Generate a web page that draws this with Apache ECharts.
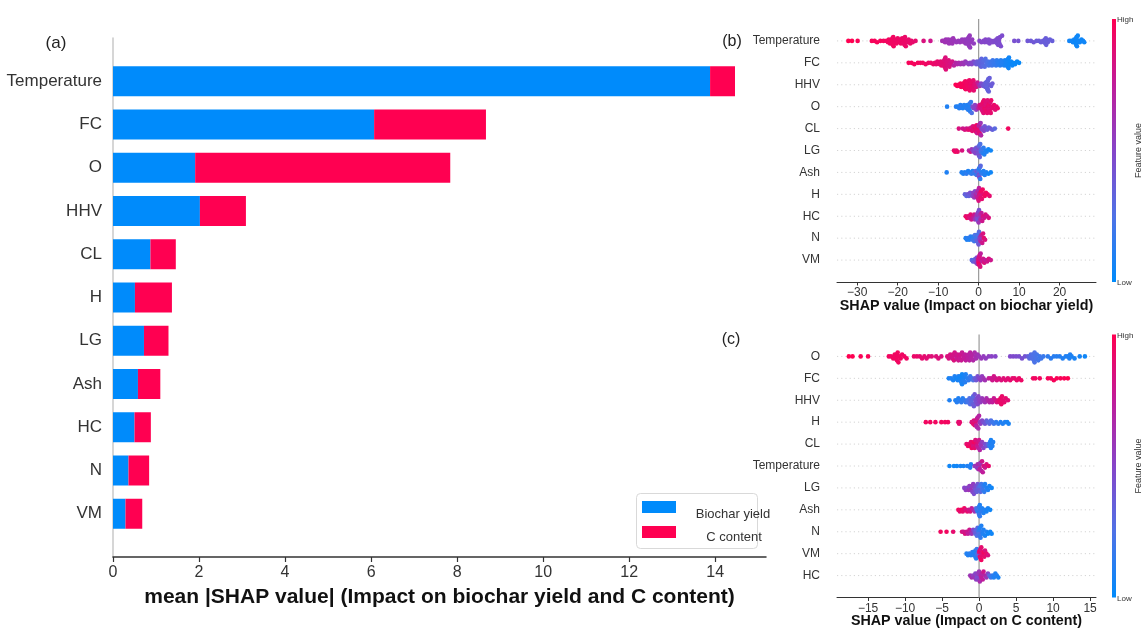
<!DOCTYPE html>
<html>
<head>
<meta charset="utf-8">
<script src="https://cdn.jsdelivr.net/npm/echarts@6/dist/echarts.min.js"></script>
<style>
  html, body { margin: 0; padding: 0; background: #ffffff; }
  #chart { width: 1141px; height: 630px; }
</style>
</head>
<body>
<div id="chart"></div>
<script>
// ---- (a) mean |SHAP| per feature, stacked for the two targets ----
const barFeatures = ['Temperature', 'FC', 'O', 'HHV', 'CL', 'H', 'LG', 'Ash', 'HC', 'N', 'VM'];
const biocharYield = [13.88, 6.07, 1.91, 2.02, 0.87, 0.51, 0.72, 0.58, 0.50, 0.36, 0.29];
const cContent = [0.58, 2.60, 5.93, 1.07, 0.59, 0.86, 0.57, 0.52, 0.38, 0.48, 0.39];
const barTicks = [0, 2, 4, 6, 8, 10, 12, 14];

// ---- (b) SHAP beeswarm, biochar yield: [shap value, normalised feature value] ----
const yieldOrder = ['Temperature', 'FC', 'HHV', 'O', 'CL', 'LG', 'Ash', 'H', 'HC', 'N', 'VM'];
const yieldTicks = [-30, -20, -10, 0, 10, 20];

const bTemperature = [[-32.2,1],[-31.3,1],[-29.9,.98],
  [-26.4,.97],[-25.7,.97],[-25.1,.97],[-24.3,.96],[-23.5,.96],
  [-22.8,.95],[-22.4,.95],[-22.2,.95],[-21.9,.94],[-21.8,.95],[-21.6,.95],[-21.5,.95],[-21.4,.94],[-21.3,.95],[-21.2,.94],[-21.1,.95],[-21.0,.95],[-20.8,.94],[-20.7,.94],[-20.5,.93],[-20.3,.94],[-20.0,.93],[-19.8,.93],[-19.6,.94],[-19.4,.93],[-19.2,.93],[-18.9,.93],[-18.8,.92],[-18.7,.92],[-18.6,.93],[-18.5,.92],[-18.4,.93],[-18.3,.92],[-18.2,.92],[-18.0,.92],[-17.8,.92],[-17.5,.91],[-17.3,.91],[-16.9,.92],[-16.6,.91],[-16.3,.91],[-15.6,.9],
  [-13.6,.85],[-11.9,.8],
  [-9.0,.62],[-8.6,.62],[-8.3,.61],[-8.1,.6],[-7.9,.61],[-7.7,.61],[-7.5,.6],[-7.3,.6],[-7.0,.6],[-6.8,.6],[-6.7,.59],[-6.5,.6],[-6.3,.6],[-5.9,.59],[-5.5,.58],[-5.0,.58],[-4.6,.58],[-4.1,.57],[-3.8,.57],[-3.6,.58],[-3.4,.57],[-3.2,.57],[-3.0,.56],[-2.9,.57],[-2.8,.56],[-2.7,.57],[-2.6,.56],[-2.5,.56],[-2.4,.57],[-2.3,.56],[-2.2,.57],[-2.1,.56],[-2.0,.56],[-1.8,.56],[-1.6,.56],[-1.2,.55],
  [0.2,.5],[0.7,.5],[1.2,.49],[1.5,.49],[1.7,.5],[2.0,.49],[2.2,.49],[2.5,.48],[2.7,.48],[3.1,.48],[3.5,.48],[3.9,.47],[4.2,.47],[4.4,.47],[4.6,.46],[4.7,.47],[4.8,.46],[4.9,.47],[5.0,.46],[5.0,.47],[5.1,.46],[5.1,.47],[5.2,.46],[5.3,.47],[5.5,.46],[5.8,.46],
  [8.8,.44],[9.8,.43],
  [12.1,.4],[12.9,.39],[13.6,.4],[14.3,.38],[14.9,.38],[15.4,.37],[15.9,.38],[16.2,.37],[16.4,.36],[16.5,.37],[16.6,.37],[16.7,.36],[16.8,.36],[17.1,.37],[17.6,.36],[18.2,.36],
  [22.4,.06],[22.9,.05],[23.3,.06],[23.6,.05],[23.8,.05],[23.9,.04],[24.0,.05],[24.0,.04],[24.1,.05],[24.1,.04],[24.2,.05],[24.3,.05],[24.5,.04],[24.7,.05],[25.0,.05],[25.4,.04],[25.8,.05],[26.1,.05]];

const bFC = [[-17.3,.97],[-16.6,.97],[-15.9,.96],[-15.0,.96],[-14.4,.95],[-13.8,.95],[-13.1,.94],[-12.4,.93],[-11.8,.93],
  [-11.2,.92],[-10.8,.92],[-10.5,.91],[-10.2,.9],[-9.9,.9],[-9.6,.9],[-9.4,.89],[-9.2,.9],[-9.0,.88],[-8.8,.88],[-8.7,.89],[-8.6,.88],[-8.5,.87],[-8.4,.88],[-8.3,.87],[-8.2,.88],[-8.2,.86],[-8.1,.87],[-8.0,.86],[-7.9,.87],[-7.8,.86],[-7.6,.85],[-7.4,.86],[-7.2,.85],[-7.0,.84],[-6.8,.83],[-6.5,.82],
  [-6.1,.72],[-5.7,.7],[-5.3,.68],[-4.9,.66],[-4.5,.64],[-4.1,.62],[-3.7,.6],[-3.3,.58],[-2.9,.56],[-2.5,.54],[-2.1,.52],[-1.7,.5],[-1.3,.48],
  [-0.9,.42],[-0.6,.4],[-0.4,.39],[-0.2,.38],[0.0,.37],[0.2,.36],[0.4,.35],[0.5,.34],[0.6,.34],[0.7,.33],[0.8,.32],[0.9,.32],[1.0,.31],[1.1,.3],[1.3,.29],[1.5,.28],[1.7,.27],[1.9,.26],[2.1,.25],[2.3,.24],[2.5,.23],[2.7,.22],[2.9,.21],[3.1,.2],[3.3,.2],[3.5,.19],[3.7,.18],[3.9,.17],[4.1,.17],[4.3,.16],[4.5,.15],[4.7,.14],[4.9,.14],[5.1,.13],[5.3,.12],[5.5,.12],[5.7,.11],[5.9,.1],[6.1,.1],[6.3,.09],[6.5,.08],[6.7,.08],[6.8,.07],[6.9,.07],[7.0,.06],[7.1,.06],[7.2,.06],[7.3,.05],[7.4,.05],[7.5,.05],[7.6,.05],[7.8,.04],[8.0,.04],[8.3,.04],[8.6,.03],[9.0,.03],[9.5,.03],[10.0,.02]];

const bHHV = [[-5.7,.99],[-5.3,.99],[-5.0,.98],[-4.7,.98],[-4.5,.98],[-4.3,.97],[-4.1,.97],[-3.9,.97],[-3.7,.96],[-3.6,.96],[-3.5,.96],[-3.4,.96],[-3.3,.95],[-3.2,.95],[-3.1,.95],[-3.0,.95],[-2.9,.94],[-2.8,.94],[-2.7,.94],[-2.6,.94],[-2.5,.93],[-2.4,.93],[-2.3,.93],[-2.2,.93],[-2.1,.92],[-2.0,.92],[-1.9,.92],[-1.8,.92],[-1.7,.91],[-1.6,.91],[-1.5,.91],[-1.4,.9],[-1.3,.9],[-1.2,.9],[-1.1,.89],[-1.0,.88],[-0.9,.87],
  [-0.6,.85],[-0.3,.78],[0.0,.7],[0.3,.6],[0.6,.5],[0.9,.45],[1.2,.4],[1.5,.38],
  [1.7,.36],[1.8,.35],[1.9,.35],[2.0,.34],[2.0,.35],[2.1,.34],[2.1,.35],[2.1,.33],[2.2,.34],[2.2,.35],[2.3,.34],[2.3,.33],[2.4,.34],[2.5,.35],[2.7,.36],[2.9,.36],[3.1,.37],[3.4,.38]];

const bO = [[-7.8,.1],
  [-5.6,.12],[-5.2,.1],[-4.8,.12],[-4.5,.1],[-4.2,.14],[-3.9,.1],[-3.6,.12],[-3.3,.1],[-3.0,.14],[-2.8,.1],[-2.6,.12],[-2.5,.1],[-2.4,.14],[-2.4,.1],[-2.3,.12],[-2.2,.15],[-2.1,.12],[-1.9,.18],[-1.7,.25],
  [-1.5,.45],[-1.2,.5],[-0.9,.52],[-0.6,.55],[-0.3,.6],
  [0.0,.75],[0.2,.8],[0.4,.85],[0.6,.82],[0.7,.88],[0.8,.85],[0.9,.9],[1.0,.86],[1.1,.92],[1.2,.88],[1.3,.9],[1.4,.87],[1.5,.93],[1.6,.88],[1.7,.9],[1.8,.86],[1.9,.92],[2.0,.88],[2.1,.9],[2.2,.87],[2.3,.93],[2.4,.89],[2.5,.9],[2.6,.88],[2.7,.92],[2.8,.9],[2.9,.86],[3.0,.9],[3.1,.92],[3.3,.88],[3.5,.9],[3.8,.92],[4.1,.88],[4.4,.9],[4.7,.92]];

const bCL = [[-4.9,.85],[-3.9,.8],[-3.4,.85],[-3.0,.8],[-2.6,.9],[-2.3,.85],[-2.0,.9],[-1.8,.8],[-1.6,.9],[-1.4,.85],[-1.2,.9],[-1.0,.8],[-0.9,.95],[-0.8,.9],[-0.7,.85],[-0.6,.9],[-0.5,.95],[-0.4,.8],[-0.3,.9],[-0.2,.85],[-0.1,.95],[0.0,.9],[0.0,.8],[0.1,.85],[0.1,.7],[0.2,.9],[0.3,.75],[0.4,.85],[0.5,.6],[0.6,.7],[0.7,.55],[0.9,.5],[1.1,.45],[1.3,.5],[1.5,.4],[1.8,.45],[2.1,.4],[2.5,.35],[2.9,.4],[3.4,.35],[4.0,.3],[7.3,.95]];

const bLG = [[-6.1,.9],[-5.8,.95],[-5.5,.9],[-5.2,.92],[-4.1,.85],
  [-2.4,.7],[-2.0,.8],[-1.7,.6],[-1.4,.55],[-1.2,.5],[-1.0,.45],[-0.8,.5],[-0.6,.4],[-0.5,.45],[-0.4,.5],[-0.3,.4],[-0.2,.45],[-0.1,.5],[0.0,.4],[0.0,.35],[0.1,.45],[0.2,.3],[0.3,.35],[0.4,.25],[0.5,.3],[0.6,.2],[0.8,.2],[1.0,.15],[1.2,.15],[1.4,.1],[1.7,.1],[2.0,.1],[2.4,.05],[3.0,.05]];

const bAsh = [[-7.9,.1],
  [-4.2,.1],[-3.8,.1],[-3.4,.1],[-3.0,.15],[-2.6,.1],[-2.2,.1],[-1.8,.15],[-1.5,.1],[-1.2,.2],[-0.9,.15],[-0.7,.3],[-0.5,.2],[-0.3,.4],[-0.2,.15],[-0.1,.3],[0.0,.45],[0.0,.2],[0.1,.35],[0.1,.1],[0.2,.5],[0.3,.2],[0.4,.15],[0.5,.3],[0.7,.1],[0.9,.15],[1.2,.1],[1.5,.1],[1.9,.1],[2.4,.05],[3.0,.05]];

const bH = [[-3.4,.35],[-3.0,.3],[-2.7,.4],[-2.4,.35],[-2.1,.45],[-1.8,.4],[-1.5,.5],[-1.3,.55],[-1.1,.6],[-0.9,.5],[-0.7,.65],[-0.5,.7],[-0.4,.6],[-0.3,.75],[-0.2,.7],[-0.1,.8],[0.0,.65],[0.0,.85],[0.1,.75],[0.2,.9],[0.3,.8],[0.4,.85],[0.5,.9],[0.6,.95],[0.8,.9],[1.0,.95],[1.2,.9],[1.5,.95],[1.8,.95],[2.2,.95],[2.7,.9]];

const bHC = [[-3.2,.9],[-2.9,.95],[-2.6,.9],[-2.3,.85],[-2.0,.9],[-1.8,.8],[-1.5,.85],[-1.3,.75],[-1.1,.8],[-0.9,.6],[-0.7,.7],[-0.5,.5],[-0.4,.6],[-0.3,.45],[-0.2,.55],[-0.1,.4],[0.0,.5],[0.0,.6],[0.1,.45],[0.2,.55],[0.3,.5],[0.4,.65],[0.5,.7],[0.7,.75],[0.9,.8],[1.1,.85],[1.4,.8],[1.7,.85],[2.1,.8],[2.5,.85]];

const bN = [[-3.2,.1],[-2.9,.1],[-2.6,.15],[-2.3,.1],[-2.0,.15],[-1.7,.1],[-1.5,.2],[-1.3,.15],[-1.1,.2],[-0.9,.25],[-0.7,.2],[-0.5,.3],[-0.4,.2],[-0.3,.35],[-0.2,.25],[-0.1,.3],[0.0,.2],[0.0,.4],[0.1,.3],[0.2,.45],[0.3,.5],[0.4,.6],[0.5,.7],[0.7,.75],[0.9,.8],[1.1,.85],[1.3,.9],[1.6,.85]];

const bVM = [[-1.7,.3],[-1.4,.35],[-1.2,.25],[-1.0,.4],[-0.8,.35],[-0.6,.45],[-0.4,.5],[-0.3,.6],[-0.2,.7],[-0.1,.8],[0.0,.85],[0.0,.9],[0.1,.8],[0.1,.95],[0.2,.85],[0.2,.9],[0.3,.8],[0.4,.85],[0.5,.75],[0.7,.8],[0.9,.75],[1.1,.8],[1.4,.85],[1.7,.75],[2.1,.8],[2.5,.85],[3.0,.8]];

// ---- (c) SHAP beeswarm, C content ----
const carbonOrder = ['O', 'FC', 'HHV', 'H', 'CL', 'Temperature', 'LG', 'Ash', 'N', 'VM', 'HC'];
const carbonTicks = [-15, -10, -5, 0, 5, 10, 15];

const cO = [[-17.6,1],[-17.1,1],[-16.0,.98],[-15.0,.98],
  [-12.2,.95],[-11.9,.95],[-11.6,.95],[-11.4,.95],[-11.3,.94],[-11.2,.95],[-11.1,.95],[-11.1,.94],[-11.0,.95],[-10.9,.95],[-10.8,.94],[-10.6,.95],[-10.4,.94],[-10.1,.94],[-9.8,.94],
  [-8.8,.92],[-8.4,.92],[-8.0,.9],[-7.7,.9],[-7.4,.9],[-7.1,.88],[-6.8,.88],[-6.4,.87],[-5.8,.86],[-5.5,.86],[-5.1,.85],
  [-4.3,.85],[-4.1,.84],[-3.9,.84],[-3.7,.83],[-3.6,.8],[-3.5,.82],[-3.4,.85],[-3.3,.82],[-3.1,.8],[-3.0,.78],[-2.9,.8],[-2.8,.8],[-2.7,.82],[-2.6,.78],[-2.5,.8],[-2.4,.78],[-2.3,.77],[-2.1,.76],[-2.0,.76],[-1.9,.75],[-1.8,.75],[-1.6,.74],[-1.5,.73],[-1.4,.72],[-1.3,.72],[-1.2,.72],[-1.1,.7],[-1.0,.7],[-0.9,.7],[-0.8,.68],[-0.6,.66],[-0.5,.65],[-0.4,.64],[-0.2,.62],[0.0,.6],[0.3,.58],[0.6,.56],[0.9,.55],[1.3,.54],[1.7,.52],[2.2,.5],
  [4.2,.48],[4.6,.47],[5.0,.46],[5.4,.45],[5.8,.44],[6.2,.42],
  [6.6,.35],[6.8,.3],[7.0,.28],[7.1,.27],[7.2,.26],[7.3,.25],[7.4,.25],[7.5,.25],[7.5,.24],[7.6,.24],[7.7,.23],[7.8,.22],[8.0,.21],[8.2,.2],[8.4,.2],[8.7,.18],
  [9.3,.15],[9.7,.14],[10.1,.13],[10.5,.12],[10.9,.12],[11.3,.11],[11.7,.1],[12.0,.1],[12.2,.1],[12.3,.1],[12.5,.09],[12.9,.08],[13.6,.07],[14.3,.05]];

const cFC = [[-4.1,.08],[-3.8,.1],[-3.5,.08],[-3.3,.1],[-3.1,.06],[-2.9,.08],[-2.8,.1],[-2.7,.05],[-2.6,.08],[-2.5,.06],[-2.4,.1],[-2.3,.05],[-2.3,.08],[-2.2,.06],[-2.1,.1],[-2.0,.08],[-1.9,.12],[-1.8,.1],[-1.6,.12],[-1.4,.15],[-1.2,.18],[-1.0,.2],[-0.8,.25],
  [-0.6,.35],[-0.4,.4],[-0.2,.45],[0.0,.5],[0.2,.55],[0.4,.55],[0.6,.6],[0.8,.62],
  [1.3,.75],[1.6,.78],[1.8,.8],[2.0,.82],[2.2,.8],[2.4,.84],[2.7,.85],[3.0,.86],[3.3,.87],[3.6,.88],[3.9,.88],[4.2,.9],[4.5,.9],[4.8,.9],[5.1,.92],[5.4,.92],[5.7,.93],
  [7.3,.95],[7.6,.95],[8.2,.95],[9.3,.97],[9.7,.97],[10.1,.97],[10.5,.98],[11.0,.98],[11.5,.98],[12.0,1]];

const cHHV = [[-4.0,.1],[-3.2,.1],[-3.0,.12],[-2.8,.1],[-2.6,.12],[-2.4,.15],[-2.2,.12],[-2.0,.15],[-1.8,.18],[-1.6,.2],[-1.5,.22],[-1.3,.25],[-1.2,.28],[-1.1,.3],[-1.0,.3],[-0.9,.32],[-0.8,.35],[-0.8,.3],[-0.7,.38],[-0.6,.4],[-0.5,.42],[-0.4,.44],[-0.3,.46],[-0.2,.48],[-0.1,.5],[0.0,.52],[0.2,.55],[0.4,.58],[0.6,.6],[0.8,.62],[1.0,.65],[1.2,.68],[1.4,.7],[1.6,.72],[1.8,.75],[2.0,.78],[2.2,.8],[2.4,.85],[2.6,.88],[2.8,.9],[2.9,.92],[3.0,.92],[3.1,.92],[3.2,.9],[3.4,.9],[3.6,.9],[3.9,.88]];

const cH = [[-7.2,.95],[-6.6,.95],[-5.9,.95],[-5.1,.95],[-4.6,.95],[-4.2,.95],[-2.8,.9],[-2.7,.9],[-2.6,.9],
  [-1.0,.85],[-0.8,.9],[-0.7,.85],[-0.6,.9],[-0.5,.8],[-0.5,.9],[-0.4,.85],[-0.4,.75],[-0.3,.8],[-0.3,.7],[-0.2,.75],[-0.1,.65],[0.0,.7],[0.1,.6],[0.2,.55],[0.4,.5],[0.6,.45],
  [0.8,.4],[1.0,.35],[1.2,.3],[1.4,.3],[1.6,.25],[1.8,.2],[2.0,.2],[2.3,.15],[2.6,.15],[2.9,.1],[3.2,.1],[3.5,.1],[3.8,.08],[4.0,.08]];

const cCL = [[-1.7,.9],[-1.5,.95],[-1.3,.9],[-1.2,.95],[-1.1,.9],[-1.0,.95],[-0.9,.9],[-0.8,.85],[-0.7,.95],[-0.6,.9],[-0.5,.85],[-0.4,.9],[-0.3,.8],[-0.2,.85],[-0.1,.75],[0.0,.8],[0.1,.7],[0.2,.65],[0.3,.6],[0.4,.55],[0.6,.5],[0.8,.45],[1.0,.4],[1.2,.3],[1.4,.15],[1.5,.1],[1.6,.1],[1.6,.08],[1.7,.1],[1.8,.1],[1.9,.1]];

const cTemperature = [[-4.0,.05],[-3.4,.05],[-3.0,.05],[-2.5,.08],[-2.1,.08],[-1.6,.1],[-1.2,.1],[-1.1,.1],
  [-0.6,.55],[-0.4,.6],[-0.3,.55],[-0.2,.65],[-0.1,.6],[0.0,.7],[0.0,.55],[0.1,.65],[0.1,.75],[0.2,.6],[0.3,.7],[0.4,.8],[0.5,.75],[0.6,.85],[0.8,.8],[1.0,.85],[1.3,.9]];

const cLG = [[-2.0,.5],[-1.8,.55],[-1.6,.5],[-1.4,.6],[-1.3,.55],[-1.2,.5],[-1.1,.6],[-1.0,.55],[-0.9,.5],[-0.8,.55],[-0.7,.45],[-0.6,.5],[-0.5,.4],[-0.4,.45],[-0.3,.35],[-0.2,.4],[-0.1,.3],[0.0,.35],[0.1,.25],[0.2,.3],[0.3,.2],[0.4,.25],[0.5,.2],[0.6,.15],[0.7,.15],[0.8,.1],[1.0,.1],[1.2,.1],[1.4,.08],[1.7,.05]];

const cAsh = [[-2.8,.95],[-2.6,.9],[-2.4,.95],[-2.2,.9],[-2.0,.95],[-1.8,.85],[-1.6,.9],[-1.4,.8],[-1.2,.85],[-1.0,.75],[-0.8,.7],[-0.6,.6],
  [-0.4,.3],[-0.3,.2],[-0.2,.15],[-0.1,.2],[0.0,.1],[0.0,.15],[0.0,.2],[0.1,.1],[0.1,.15],[0.2,.1],[0.3,.15],[0.4,.1],[0.6,.1],[0.8,.1],[1.0,.08],[1.2,.08],[1.5,.05]];

const cN = [[-5.2,.95],[-4.4,.95],[-3.5,.9],[-2.3,.85],[-2.1,.8],[-1.9,.85],[-1.7,.8],[-1.5,.75],[-1.3,.8],[-1.1,.7],[-1.0,.6],[-0.8,.5],[-0.6,.4],[-0.5,.35],[-0.4,.3],[-0.3,.25],[-0.2,.3],[-0.1,.2],[0.0,.25],[0.0,.15],[0.1,.2],[0.1,.1],[0.2,.15],[0.3,.1],[0.4,.15],[0.5,.1],[0.6,.1],[0.8,.08],[1.0,.1],[1.2,.05],[1.5,.05],[1.7,.05]];

const cVM = [[-1.7,.1],[-1.5,.1],[-1.3,.12],[-1.1,.1],[-0.9,.15],[-0.8,.1],[-0.7,.12],[-0.6,.1],[-0.5,.15],[-0.5,.1],[-0.4,.12],[-0.3,.2],[-0.2,.25],[-0.1,.35],
  [0.0,.85],[0.1,.9],[0.1,.95],[0.2,.9],[0.2,.85],[0.3,.95],[0.3,.9],[0.4,.85],[0.5,.9],[0.6,.95],[0.7,.9],[0.8,.85],[1.0,.9],[1.2,.85]];

const cHC = [[-1.2,.6],[-1.0,.65],[-0.8,.55],[-0.6,.6],[-0.5,.5],[-0.4,.55],[-0.3,.5],[-0.3,.45],[-0.2,.55],[-0.1,.5],[0.0,.6],[0.1,.65],[0.2,.7],[0.3,.75],[0.4,.7],[0.5,.75],[0.6,.8],[0.8,.7],[1.0,.6],[1.2,.5],[1.4,.3],[1.6,.2],[1.8,.15],[2.0,.1],[2.2,.1],[2.4,.1],[2.6,.08]];

const yieldRows = [bTemperature, bFC, bHHV, bO, bCL, bLG, bAsh, bH, bHC, bN, bVM];
const carbonRows = [cO, cFC, cHHV, cH, cCL, cTemperature, cLG, cAsh, cN, cVM, cHC];

// ---- layout ----
const BLUE = '#008bfb', RED = '#ff0051';
const featureColors = ['#008bfb', '#4f72e6', '#8645c9', '#c01c9a', '#ff0051'];
const FONT = '"Liberation Sans", Arial, Helvetica, sans-serif';

const gridA = { left: 113, top: 38, width: 653, height: 519 };
const gridB = { left: 837, top: 19, width: 259, height: 263 };
const gridC = { left: 837, top: 334.5, width: 259, height: 263 };
const rangeB = [-35, 29];
const rangeC = [-19.2, 15.8];

// Beeswarm stacking: points are binned along x (bins ~4 px wide) and stacked
// outward from the row centre; each row's swarm is scaled to 0.36 of a row.
function swarm(rows, pxPerUnit) {
  const out = [];
  rows.forEach((pts, row) => {
    const xs = pts.map(p => p[0]);
    const lo = Math.min(...xs), hi = Math.max(...xs);
    const nbins = Math.max(1, Math.round((hi - lo) * pxPerUnit / 4));
    const quant = xs.map(x => Math.round(nbins * (x - lo) / (hi - lo + 1e-8)));
    const order = xs.map((_, k) => k).sort((a, b) => quant[a] - quant[b] || a - b);
    const ys = new Array(xs.length).fill(0);
    let layer = 0, last = -1;
    for (const k of order) {
      if (quant[k] !== last) layer = 0;
      ys[k] = Math.ceil(layer / 2) * ((layer % 2) * 2 - 1);
      layer++;
      last = quant[k];
    }
    const m = Math.max(...ys.map(y => y + 1));
    const s = 0.9 * 0.4 / m;
    pts.forEach((p, k) => out.push([p[0], row + ys[k] * s, p[1]]));
  });
  return out;
}

const swarmB = swarm(yieldRows, gridB.width / (rangeB[1] - rangeB[0]));
const swarmC = swarm(carbonRows, gridC.width / (rangeC[1] - rangeC[0]));

const minusFmt = v => (v < 0 ? '\u2212' + Math.abs(v) : String(v));
const rowIdx = [0, 1, 2, 3, 4, 5, 6, 7, 8, 9, 10];

function shapXAxis(idx, range, ticks, name) {
  return {
    type: 'value', gridIndex: idx, min: range[0], max: range[1], position: 'bottom',
    axisLine: { show: true, onZero: false, lineStyle: { color: '#333', width: 1 } },
    axisTick: { show: true, length: 3.5, lineStyle: { color: '#333' }, customValues: ticks },
    axisLabel: { fontSize: 12, color: '#333', fontFamily: FONT, margin: 5, formatter: minusFmt, customValues: ticks },
    splitLine: { show: false },
    name: name, nameLocation: 'middle', nameGap: 17, nameMoveOverlap: false,
    nameTextStyle: { fontSize: 14.3, fontWeight: 'bold', color: '#111', fontFamily: FONT }
  };
}
function shapYAxis(idx, names) {
  return {
    type: 'value', gridIndex: idx, inverse: true, min: -1, max: 11, interval: 1,
    axisLine: { show: false, onZero: false }, axisTick: { show: false }, splitLine: { show: false },
    axisLabel: {
      fontSize: 12, color: '#333', fontFamily: FONT, margin: 17,
      formatter: v => (v >= 0 && v <= 10 ? names[v] : '')
    }
  };
}
// faint dotted guide for each feature row, plus the zero line
function guideSeries(idx, range) {
  const list = rowIdx.map(i => ({
    type: 'line', xAxisIndex: idx, yAxisIndex: idx, silent: true, z: 1,
    data: [[range[0], i], [range[1], i]], symbol: 'none',
    lineStyle: { color: '#d4d4d4', type: [1.2, 3], width: 1 }
  }));
  list.push({
    type: 'line', xAxisIndex: idx, yAxisIndex: idx, silent: true, z: 1,
    data: [[0, -1], [0, 11]], symbol: 'none',
    lineStyle: { color: '#9a9a9a', width: 1.2 }
  });
  return list;
}
function swarmSeries(idx, data) {
  return {
    type: 'scatter', xAxisIndex: idx, yAxisIndex: idx, z: 3, silent: true,
    data: data, symbol: 'circle', symbolSize: 4.6,
    itemStyle: { opacity: 1, borderWidth: 0 }
  };
}

const gradStops = featureColors.slice().reverse().map((c, i, a) => ({ offset: i / (a.length - 1), color: c }));
function colorbar(top, height) {
  return [
    { type: 'rect', shape: { x: 1112, y: top, width: 4, height: height },
      style: { fill: new echarts.graphic.LinearGradient(0, 0, 0, 1, gradStops) } },
    { type: 'text', x: 1117, y: top + 1, style: { text: 'High', font: '8px ' + FONT, fill: '#333', align: 'left', verticalAlign: 'middle' } },
    { type: 'text', x: 1117, y: top + height + 1, style: { text: 'Low', font: '8px ' + FONT, fill: '#333', align: 'left', verticalAlign: 'middle' } },
    { type: 'text', x: 1139, y: top + height / 2, rotation: Math.PI / 2,
      style: { text: 'Feature value', font: '9px ' + FONT, fill: '#333', align: 'center', verticalAlign: 'middle' } }
  ];
}

const series = [
  { type: 'bar', name: 'Biochar yield', xAxisIndex: 0, yAxisIndex: 0, stack: 'total', barWidth: 30,
    itemStyle: { color: BLUE }, data: ['-'].concat(biocharYield, ['-']) },
  { type: 'bar', name: 'C content', xAxisIndex: 0, yAxisIndex: 0, stack: 'total', barWidth: 30,
    itemStyle: { color: RED }, data: ['-'].concat(cContent, ['-']) },
  swarmSeries(1, swarmB),
  swarmSeries(2, swarmC)
].concat(guideSeries(1, rangeB), guideSeries(2, rangeC));

const chart = echarts.init(document.getElementById('chart'), null, { renderer: 'canvas' });
chart.setOption({
  backgroundColor: '#ffffff',
  animation: false,
  textStyle: { fontFamily: FONT },
  grid: [
    Object.assign({ outerBoundsMode: 'none', containLabel: false }, gridA),
    Object.assign({ outerBoundsMode: 'none', containLabel: false }, gridB),
    Object.assign({ outerBoundsMode: 'none', containLabel: false }, gridC)
  ],
  xAxis: [
    {
      type: 'value', gridIndex: 0, min: 0, max: 15.18,
      axisLine: { show: true, onZero: false, lineStyle: { color: '#333', width: 1.5 } },
      axisTick: { show: true, length: 5, lineStyle: { color: '#333', width: 1.2 }, customValues: barTicks },
      axisLabel: { fontSize: 16, color: '#333', fontFamily: FONT, margin: 8, customValues: barTicks },
      splitLine: { show: false },
      name: 'mean |SHAP value| (Impact on biochar yield and C content)',
      nameLocation: 'middle', nameGap: 30, nameMoveOverlap: false,
      nameTextStyle: { fontSize: 21, fontWeight: 'bold', color: '#111', fontFamily: FONT }
    },
    shapXAxis(1, rangeB, yieldTicks, 'SHAP value (Impact on biochar yield)'),
    shapXAxis(2, rangeC, carbonTicks, 'SHAP value (Impact on C content)')
  ],
  yAxis: [
    {
      type: 'category', gridIndex: 0, inverse: true, boundaryGap: false,
      data: [''].concat(barFeatures, ['']),
      axisLine: { show: true, onZero: false, lineStyle: { color: '#c8c8c8', width: 1.5 } },
      axisTick: { show: false },
      axisLabel: { fontSize: 17, color: '#333', fontFamily: FONT, margin: 11 },
      splitLine: { show: false }
    },
    shapYAxis(1, yieldOrder),
    shapYAxis(2, carbonOrder)
  ],
  visualMap: [
    { type: 'continuous', show: false, min: 0, max: 1, dimension: 2, seriesIndex: [2, 3], inRange: { color: featureColors } }
  ],
  series: series,
  graphic: [
    { type: 'text', x: 56, y: 43, style: { text: '(a)', font: '17px ' + FONT, fill: '#222', align: 'center', verticalAlign: 'middle' } },
    { type: 'text', x: 732, y: 42, style: { text: '(b)', font: '16px ' + FONT, fill: '#222', align: 'center', verticalAlign: 'middle' } },
    { type: 'text', x: 731, y: 340, style: { text: '(c)', font: '16px ' + FONT, fill: '#222', align: 'center', verticalAlign: 'middle' } },
    // legend for panel (a)
    { type: 'rect', shape: { x: 636.5, y: 493.5, width: 121, height: 55, r: 4 },
      style: { fill: 'rgba(255,255,255,0.85)', stroke: '#d9d9d9', lineWidth: 1 } },
    { type: 'rect', shape: { x: 642, y: 501, width: 34, height: 12 }, style: { fill: BLUE } },
    { type: 'rect', shape: { x: 642, y: 526, width: 34, height: 12 }, style: { fill: RED } },
    { type: 'text', x: 733, y: 514, style: { text: 'Biochar yield', font: '13px ' + FONT, fill: '#333', align: 'center', verticalAlign: 'middle' } },
    { type: 'text', x: 734, y: 537, style: { text: 'C content', font: '13px ' + FONT, fill: '#333', align: 'center', verticalAlign: 'middle' } }
  ].concat(colorbar(gridB.top, gridB.height), colorbar(gridC.top, gridC.height))
});
</script>
</body>
</html>
